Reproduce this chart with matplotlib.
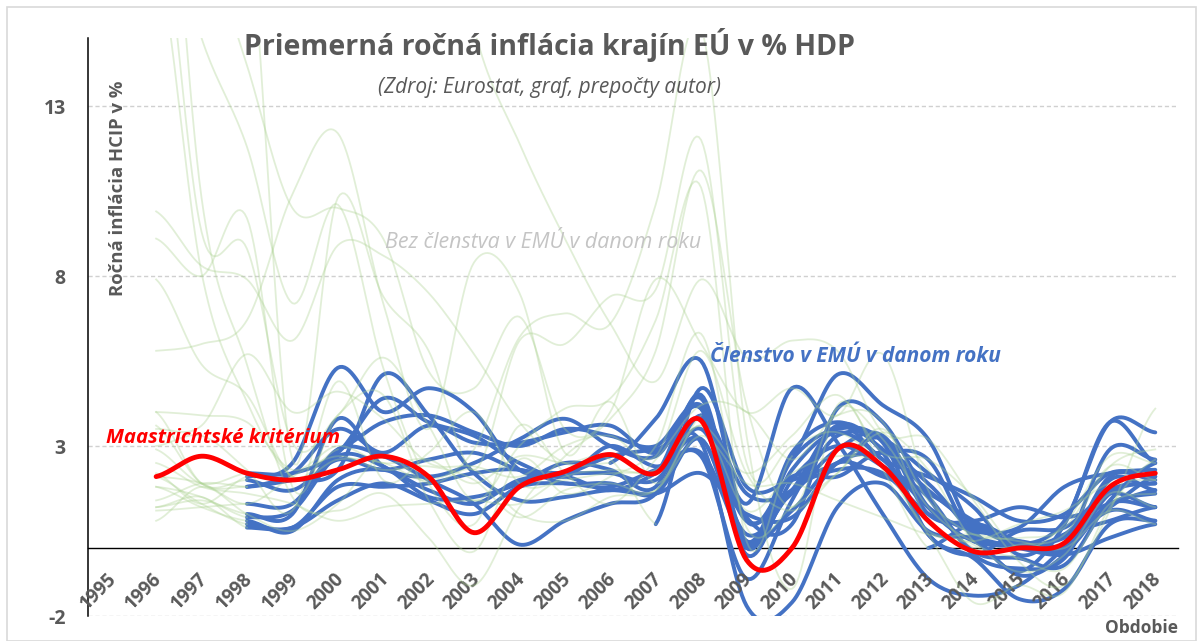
import numpy as np
import matplotlib
matplotlib.use("Agg")
import matplotlib.pyplot as plt
from matplotlib.patches import Rectangle

plt.rcParams['font.family'] = ['Open Sans', 'DejaVu Sans']

# roky 1995..2018
years = list(range(1995, 2019))
year_labels = [str(y) for y in years]
N = None

# Maastrichtske kriterium
maastricht = [N, 2.1, 2.7, 2.2, 2.0, 2.3, 2.7, 2.1, 0.45, 1.8, 2.25, 2.75, 2.2, 3.75,
              -0.35, 0.0, 2.9, 2.4, 0.8, -0.1, 0.0, 0.15, 1.8, 2.2]

# clenstvo v EMU (modre)
emu_be = [N, N, N, 0.9, 1.1, 2.7, 2.4, 1.5, 1.5, 1.9, 2.5, 2.3, 1.8, 4.5, 0.0, 2.3, 3.4, 2.6, 1.2, 0.5, 0.6, 1.8, 2.2, 2.3]
emu_de = [N, N, N, 0.6, 0.6, 1.4, 1.9, 1.4, 1.0, 1.8, 1.9, 1.8, 2.3, 2.8, 0.2, 1.1, 2.5, 2.1, 1.6, 0.8, 0.1, 0.4, 1.7, 1.9]
emu_ie = [N, N, N, 2.1, 2.5, 5.3, 4.0, 4.7, 4.0, 2.3, 2.2, 2.7, 2.9, 3.1, -1.7, -1.6, 1.2, 1.9, 0.5, 0.3, 0.0, -0.2, 0.3, 0.7]
emu_es = [N, N, N, 1.8, 2.2, 3.5, 2.8, 3.6, 3.1, 3.1, 3.4, 3.6, 2.8, 4.1, -0.2, 2.0, 3.0, 2.4, 1.5, -0.2, -0.6, -0.3, 2.0, 1.7]
emu_fr = [N, N, N, 0.7, 0.6, 1.8, 1.8, 1.9, 2.2, 2.3, 1.9, 1.9, 1.6, 3.2, 0.1, 1.7, 2.3, 2.2, 1.0, 0.6, 0.1, 0.3, 1.2, 2.1]
emu_it = [N, N, N, 2.0, 1.7, 2.6, 2.3, 2.6, 2.8, 2.3, 2.2, 2.2, 2.0, 3.5, 0.8, 1.6, 2.9, 3.3, 1.2, 0.2, 0.1, -0.1, 1.3, 1.2]
emu_lu = [N, N, N, 1.0, 1.0, 3.8, 2.4, 2.1, 2.5, 3.2, 3.8, 3.0, 2.7, 4.1, 0.0, 2.8, 3.7, 2.9, 1.7, 0.7, 0.1, 0.0, 2.1, 2.0]
emu_nl = [N, N, N, 1.8, 2.0, 2.3, 5.1, 3.9, 2.2, 1.4, 1.5, 1.7, 1.6, 2.2, 1.0, 0.9, 2.5, 2.8, 2.6, 0.3, 0.2, 0.1, 1.3, 1.6]
emu_at = [N, N, N, 0.8, 0.5, 2.0, 2.3, 1.7, 1.3, 2.0, 2.1, 1.7, 2.2, 3.2, 0.4, 1.7, 3.6, 2.6, 2.1, 1.5, 0.8, 1.0, 2.2, 2.1]
emu_pt = [N, N, N, 2.2, 2.2, 2.8, 4.4, 3.7, 3.3, 2.5, 2.1, 3.0, 2.4, 2.7, -0.9, 1.4, 3.6, 2.8, 0.4, -0.2, 0.5, 0.6, 1.6, 1.2]
emu_fi = [N, N, N, 1.3, 1.3, 2.9, 2.7, 2.0, 1.3, 0.1, 0.8, 1.3, 1.6, 3.9, 1.6, 1.7, 3.3, 3.2, 2.2, 1.2, -0.2, 0.4, 0.8, 1.2]
emu_gr = [N, N, N, N, N, 2.9, 3.7, 3.9, 3.4, 3.0, 3.5, 3.3, 3.0, 4.2, 1.3, 4.7, 3.1, 1.0, -0.9, -1.4, -1.1, 0.0, 1.1, 0.8]
emu_si = [N] * 11 + [2.5, 3.8, 5.5, 0.8, 2.1, 2.1, 2.8, 1.9, 0.4, -0.8, -0.2, 1.6, 1.9]
emu_cy = [N] * 12 + [2.2, 4.4, 0.2, 2.6, 3.5, 3.1, 0.4, -0.3, -1.5, -1.2, 0.7, 0.8]
emu_mt = [N] * 12 + [0.7, 4.7, 1.8, 2.0, 2.5, 3.2, 1.0, 0.8, 1.2, 0.9, 1.3, 1.7]
emu_sk = [N] * 13 + [3.9, 0.9, 0.7, 4.1, 3.7, 1.5, -0.1, -0.3, -0.5, 1.4, 2.5]
emu_ee = [N] * 15 + [2.7, 5.1, 4.2, 3.2, 0.5, 0.1, 0.8, 3.7, 3.4]
emu_lv = [N] * 18 + [0.0, 0.7, 0.2, 0.1, 2.9, 2.6]
emu_lt = [N] * 19 + [0.2, -0.7, 0.7, 3.7, 2.5]

# bez clenstva v EMU (zelene)
non_be = [N, 1.8, 1.5, 0.9] + [N] * 20
non_de = [N, 1.2, 1.5, 0.6] + [N] * 20
non_ie = [N, 2.2, 1.3, 2.1] + [N] * 20
non_es = [N, 3.6, 1.9, 1.8] + [N] * 20
non_fr = [N, 2.1, 1.3, 0.7] + [N] * 20
non_it = [N, 4.0, 1.9, 2.0] + [N] * 20
non_lu = [N, 1.2, 1.4, 1.0] + [N] * 20
non_nl = [N, 1.4, 1.9, 1.8] + [N] * 20
non_at = [N, 1.8, 1.2, 0.8] + [N] * 20
non_pt = [N, 2.9, 1.9, 2.2] + [N] * 20
non_fi = [N, 1.1, 1.2, 1.3] + [N] * 20
non_gr = [N, 7.9, 5.4, 4.5, 2.1, 2.9] + [N] * 18
non_si = [N, 9.9, 8.3, 7.9, 6.1, 8.9, 8.6, 7.5, 5.7, 3.7, 2.5, 2.5] + [N] * 12
non_cy = [N, 3.0, 3.3, 2.3, 1.1, 4.9, 2.0, 2.8, 4.0, 1.9, 2.0, 2.2, 2.2] + [N] * 11
non_mt = [N, 4.0, 3.9, 3.7, 2.3, 3.0, 2.5, 2.6, 1.9, 2.7, 2.5, 2.6, 0.7] + [N] * 11
non_sk = [N, 5.8, 6.0, 6.7, 10.4, 12.2, 7.2, 3.5, 8.4, 7.5, 2.8, 4.3, 1.9, 3.9] + [N] * 10
non_ee = [N, 19.8, 9.3, 8.8, 3.1, 3.9, 5.6, 3.6, 1.4, 3.0, 4.1, 4.4, 6.7, 10.6, 0.2, 2.7] + [N] * 8
non_lv = [N, 17.6, 8.1, 4.3, 2.1, 2.6, 2.5, 2.0, 2.9, 6.2, 6.9, 6.6, 10.1, 15.3, 3.3, -1.2, 4.2, 2.3, 0.0] + [N] * 5
non_lt = [N, 24.6, 10.3, 5.4, 1.5, 1.1, 1.6, 0.3, -1.1, 1.2, 2.7, 3.8, 5.8, 11.1, 4.2, 1.2, 4.1, 3.2, 1.2, 0.2] + [N] * 4
non_bg = [N, N, N, 18.7, 2.6, 10.3, 7.4, 5.8, 2.3, 6.1, 6.0, 7.4, 7.6, 12.0, 2.5, 3.0, 3.4, 2.4, 0.4, -1.6, -1.1, -1.3, 1.2, 2.6]
non_ro = [N, 38.8, 154.8, 59.1, 45.8, 45.7, 34.5, 22.5, 15.3, 11.9, 9.1, 6.6, 4.9, 7.9, 5.6, 6.1, 5.8, 3.4, 3.2, 1.4, -0.4, -1.1, 1.1, 4.1]
non_hu = [N, 23.5, 18.5, 14.2, 10.0, 10.0, 9.1, 5.2, 4.7, 6.8, 3.5, 4.0, 7.9, 6.0, 4.0, 4.7, 3.9, 5.7, 1.7, 0.0, 0.1, 0.4, 2.4, 2.9]
non_pl = [N, 19.9, 15.0, 11.8, 7.2, 10.1, 5.3, 1.9, 0.7, 3.6, 2.2, 1.3, 2.6, 4.2, 4.0, 2.6, 3.9, 3.7, 0.8, 0.1, -0.7, -0.2, 1.6, 1.2]
non_cz = [N, 9.1, 8.0, 9.7, 1.8, 3.9, 4.5, 1.4, -0.1, 2.6, 1.6, 2.1, 3.0, 6.3, 0.6, 1.2, 2.2, 3.5, 1.4, 0.4, 0.3, 0.6, 2.4, 2.0]
non_dk = [N, 2.1, 1.9, 1.3, 2.1, 2.7, 2.3, 2.4, 2.0, 0.9, 1.7, 1.9, 1.7, 3.6, 1.1, 2.2, 2.7, 2.4, 0.5, 0.4, 0.2, 0.0, 1.1, 0.7]
non_se = [N, 0.8, 1.8, 1.0, 0.5, 1.3, 2.7, 1.9, 2.3, 1.0, 0.8, 1.5, 1.7, 3.3, 1.9, 1.9, 1.4, 0.9, 0.4, 0.2, 0.7, 1.1, 1.9, 2.0]
non_uk = [N, 2.5, 1.8, 1.6, 1.3, 0.8, 1.2, 1.3, 1.4, 1.3, 2.1, 2.3, 2.3, 3.6, 2.2, 3.3, 4.5, 2.8, 2.6, 1.5, 0.0, 0.7, 2.7, 2.5]
non_hr = [N, 3.5, 3.6, 5.7, 4.0, 4.6, 3.8, 2.5, 2.4, 2.1, 3.0, 3.3, 2.7, 5.8, 2.2, 1.1, 2.2, 3.4, 2.3, 0.2, -0.3, -0.6, 1.3, 1.6]

emu_series = [emu_be, emu_de, emu_ie, emu_es, emu_fr, emu_it, emu_lu, emu_nl, emu_at, emu_pt,
              emu_fi, emu_gr, emu_si, emu_cy, emu_mt, emu_sk, emu_ee, emu_lv, emu_lt]
non_series = [non_be, non_de, non_ie, non_es, non_fr, non_it, non_lu, non_nl, non_at, non_pt,
              non_fi, non_gr, non_si, non_cy, non_mt, non_sk, non_ee, non_lv, non_lt, non_bg,
              non_ro, non_hu, non_pl, non_cz, non_dk, non_se, non_uk, non_hr]

y_ticks = [-2, 3, 8, 13]
y_tick_labels = ['-2', '3', '8', '13']


def smooth(xs, vals, n=20):
    """Vyhladena ciara (ako v Exceli) cez body s hodnotou."""
    pts = [(x, v) for x, v in zip(xs, vals) if v is not None]
    x = np.array([p[0] for p in pts], float)
    y = np.array([p[1] for p in pts], float)
    if len(x) < 2:
        return x, y
    m = np.zeros_like(y)
    m[1:-1] = (y[2:] - y[:-2]) / 2
    m[0] = (y[1] - y[0]) / 2
    m[-1] = (y[-1] - y[-2]) / 2
    t = np.linspace(0, 1, n, endpoint=False)
    h00 = 2 * t**3 - 3 * t**2 + 1
    h10 = t**3 - 2 * t**2 + t
    h01 = -2 * t**3 + 3 * t**2
    h11 = t**3 - t**2
    ox, oy = [], []
    for i in range(len(x) - 1):
        ox.append(x[i] + t * (x[i + 1] - x[i]))
        oy.append(h00 * y[i] + h10 * m[i] + h01 * y[i + 1] + h11 * m[i + 1])
    ox.append([x[-1]])
    oy.append([y[-1]])
    return np.concatenate(ox), np.concatenate(oy)


W, H = 1200, 641
fig = plt.figure(figsize=(W / 100, H / 100), dpi=100)
ax = fig.add_axes([88 / W, 1 - 616 / H, (1178 - 88) / W, (616 - 38) / H])

gray = '#595959'
blue = '#4472C4'

for s in emu_series:
    sx, sy = smooth(years, s)
    ax.plot(sx, sy, color=blue, lw=2.8, solid_capstyle='round', zorder=3)

for s in non_series:
    sx, sy = smooth(years, s)
    ax.plot(sx, sy, color='#A9D18E', lw=1.3, alpha=0.35, zorder=4)

sx, sy = smooth(years, maastricht)
ax.plot(sx, sy, color='#FF0000', lw=3.5, solid_capstyle='round', zorder=5)

ax.set_xlim(1994.5, 2018.5)
ax.set_ylim(-2, 15)
ax.set_yticks(y_ticks)
ax.set_yticklabels(y_tick_labels, fontweight='bold')
ax.tick_params(axis='y', length=0, pad=16, labelsize=14, labelcolor=gray)
ax.set_xticks([])

# popisky rokov pod osou x (otocene o 45 stupnov)
for yr, lab in zip(years, year_labels):
    ax.annotate(lab, xy=(yr, 0), xycoords='data', xytext=(-3, -15), textcoords='offset points',
                rotation=45, ha='right', va='top', rotation_mode='anchor',
                fontsize=13.5, fontweight='bold', color=gray, annotation_clip=False)

ax.grid(axis='y', color='#d0d0d0', lw=1, linestyle=(0, (3, 2)), zorder=0)
ax.spines['top'].set_visible(False)
ax.spines['right'].set_visible(False)
ax.spines['bottom'].set_position(('data', 0))
ax.spines['bottom'].set_color('black')
ax.spines['bottom'].set_linewidth(1.0)
ax.spines['bottom'].set_zorder(2)
ax.spines['left'].set_color('black')
ax.spines['left'].set_linewidth(1.1)


def px(x, y):
    return x / W, 1 - y / H


fig.text(*px(549, 45), 'Priemerná ročná inflácia krajín EÚ v % HDP', ha='center', va='center',
         fontsize=20.5, fontweight='bold', color=gray)
fig.text(*px(549, 88), '(Zdroj: Eurostat, graf, prepočty autor)', ha='center', va='center',
         fontsize=15, fontstyle='italic', color=gray)
fig.text(*px(543, 242), 'Bez členstva v EMÚ v danom roku', ha='center', va='center',
         fontsize=15.4, fontstyle='italic', color='#c4c4c4')
fig.text(*px(710, 356), 'Členstvo v EMÚ v danom roku', ha='left', va='center',
         fontsize=15, fontstyle='italic', fontweight='bold', color=blue)
fig.text(*px(106, 438), 'Maastrichtské kritérium', ha='left', va='center',
         fontsize=14.7, fontstyle='italic', fontweight='bold', color='#FF0000')
fig.text(*px(118, 188), 'Ročná inflácia HCIP v %', ha='center', va='center', rotation=90,
         fontsize=13.3, fontweight='bold', color=gray)
fig.text(*px(1178, 628), 'Obdobie', ha='right', va='center',
         fontsize=12.5, fontweight='bold', color=gray)

fig.patches.append(Rectangle((7 / W, 0), (1196 - 7) / W, 1 - 7 / H, transform=fig.transFigure,
                             fill=False, edgecolor='#d9d9d9', lw=1.2))

fig.savefig('out.png', dpi=100)
